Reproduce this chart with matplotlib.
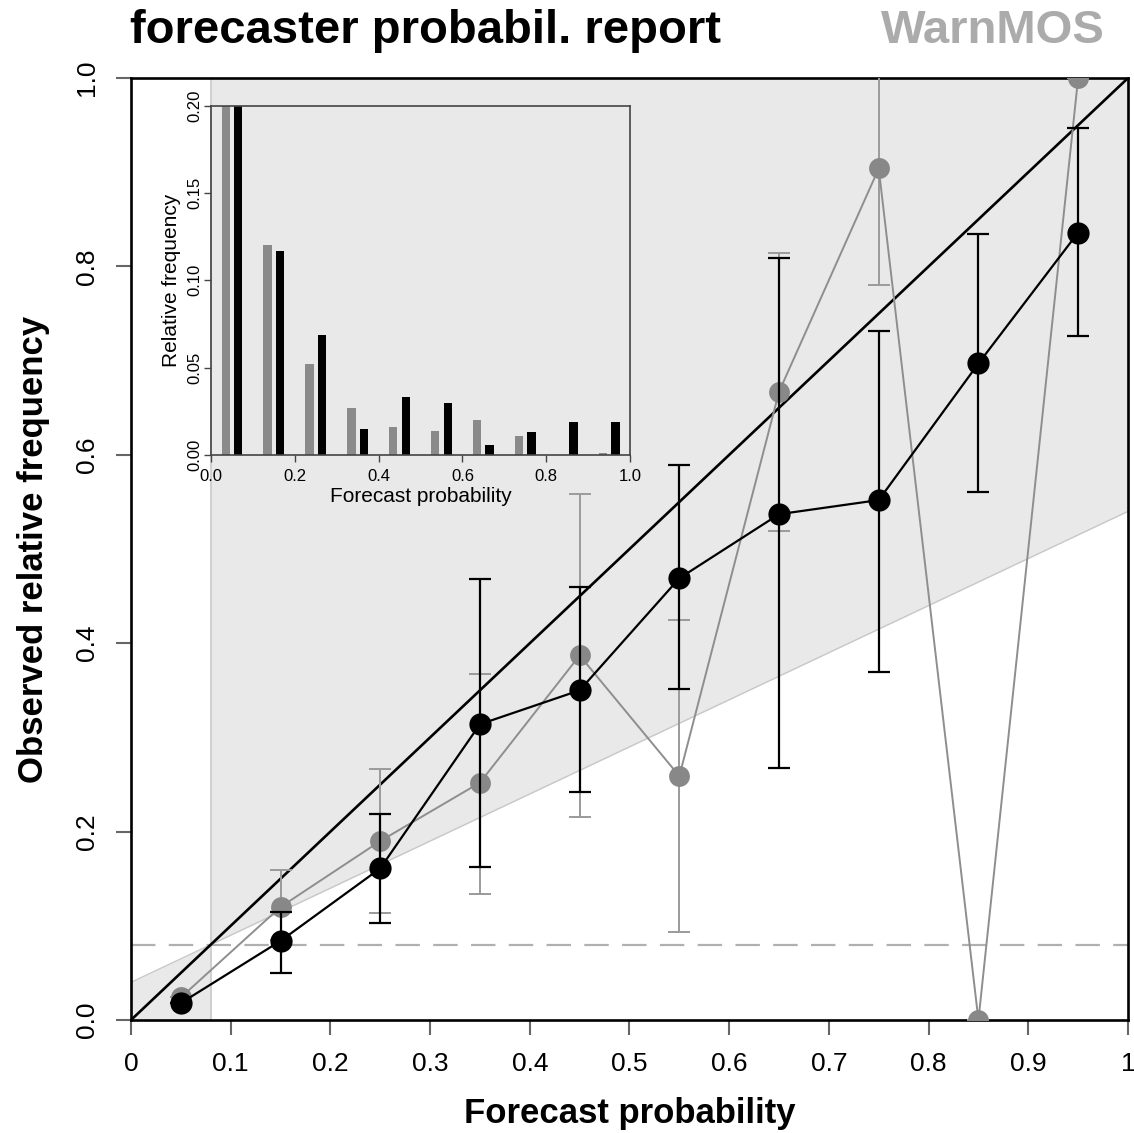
import numpy as np
import matplotlib
matplotlib.use("Agg")
import matplotlib.pyplot as plt

plt.rcParams["font.family"] = ["Liberation Sans", "DejaVu Sans"]

# bin centres of the forecast probability
bins = [0.05, 0.15, 0.25, 0.35, 0.45, 0.55, 0.65, 0.75, 0.85, 0.95]

# forecaster (black)
fc_obs = [0.018, 0.084, 0.161, 0.314, 0.350, 0.469, 0.537, 0.552, 0.697, 0.836]
fc_lo = [0.018, 0.050, 0.103, 0.162, 0.242, 0.351, 0.268, 0.370, 0.561, 0.726]
fc_hi = [0.018, 0.115, 0.219, 0.468, 0.460, 0.589, 0.809, 0.732, 0.834, 0.947]

# WarnMOS (gray)
wm_obs = [0.024, 0.120, 0.190, 0.252, 0.387, 0.259, 0.667, 0.904, 0.0, 1.0]
wm_lo = [0.024, 0.085, 0.114, 0.134, 0.216, 0.093, 0.519, 0.780, 0.0, 1.0]
wm_hi = [0.024, 0.159, 0.266, 0.367, 0.558, 0.425, 0.814, 1.100, 0.0, 1.0]

# sharpness histogram (relative frequency per bin)
wm_freq = [0.739, 0.120, 0.052, 0.027, 0.016, 0.014, 0.020, 0.011, 0.0, 0.001]
fc_freq = [0.680, 0.117, 0.069, 0.015, 0.033, 0.030, 0.0055, 0.013, 0.019, 0.019]

clim = 0.08

x_ticks = [0, 0.1, 0.2, 0.3, 0.4, 0.5, 0.6, 0.7, 0.8, 0.9, 1]
x_labels = ["0", "0.1", "0.2", "0.3", "0.4", "0.5", "0.6", "0.7", "0.8", "0.9", "1"]
y_ticks = [0, 0.2, 0.4, 0.6, 0.8, 1.0]
y_labels = ["0.0", "0.2", "0.4", "0.6", "0.8", "1.0"]

fig = plt.figure(figsize=(11.34, 11.33), dpi=100)
ax = fig.add_axes([0.1155, 0.0997, 0.8792, 0.8314])

# skill region
shade = "#e9e9e9"
ax.fill_between([0, clim], [0, 0], [clim / 2, clim], color=shade, lw=0, zorder=0)
ax.fill_between([clim, 1], [clim, (1 + clim) / 2], [1, 1], color=shade, lw=0, zorder=0)
ax.plot([0, 1], [clim / 2, (1 + clim) / 2], color="#c8c8c8", lw=1, zorder=1)
ax.axvline(clim, color="#c8c8c8", lw=1.2, zorder=1)
ax.axhline(clim, color="#b0b0b0", lw=1.6, dashes=(11, 6), zorder=1)
ax.plot([0, 1], [0, 1], color="black", lw=1.9, zorder=2)

# WarnMOS
wm_err = [np.array(wm_obs) - np.array(wm_lo), np.array(wm_hi) - np.array(wm_obs)]
ax.errorbar(bins, wm_obs, yerr=wm_err, fmt="none", ecolor="#9a9a9a",
            elinewidth=1.4, capsize=8, capthick=1.4, zorder=3)
ax.plot(bins, wm_obs, color="#8e8e8e", lw=1.4, zorder=3)
ax.plot(bins, wm_obs, "o", color="#888888", ms=15, mec="none", zorder=4)

# forecaster
fc_err = [np.array(fc_obs) - np.array(fc_lo), np.array(fc_hi) - np.array(fc_obs)]
ax.errorbar(bins, fc_obs, yerr=fc_err, fmt="none", ecolor="black",
            elinewidth=1.6, capsize=8, capthick=1.6, zorder=5)
ax.plot(bins, fc_obs, color="black", lw=1.6, zorder=5)
ax.plot(bins, fc_obs, "o", color="black", ms=16, mec="none", zorder=6)

ax.set_xlim(0, 1)
ax.set_ylim(0, 1)
ax.set_xticks(x_ticks)
ax.set_xticklabels(x_labels, fontsize=19)
ax.set_yticks(y_ticks)
ax.set_yticklabels(y_labels, fontsize=19, rotation=90, va="center")
ax.tick_params(length=11, width=1.5, color="#666666", pad=12)
for sp in ax.spines.values():
    sp.set_linewidth(1.9)
ax.set_xlabel("Forecast probability", fontsize=25, fontweight="bold", labelpad=15)
ax.set_ylabel("Observed relative frequency", fontsize=25, fontweight="bold", labelpad=18)

fig.text(0.1146, 0.962, "forecaster probabil. report", fontsize=34,
         fontweight="bold", ha="left", va="baseline")
fig.text(0.9744, 0.962, "WarnMOS", fontsize=34, fontweight="bold",
         color="#ababab", ha="right", va="baseline")

# inset: sharpness histogram
ins = fig.add_axes([0.1861, 0.5984, 0.3695, 0.3083])
ins.patch.set_alpha(0)
ins.bar(np.array(bins) - 0.015, wm_freq, width=0.02, color="#8a8a8a", lw=0)
ins.bar(np.array(bins) + 0.015, fc_freq, width=0.02, color="black", lw=0)
ins.set_xlim(0, 1)
ins.set_ylim(0, 0.2)
ins.set_xticks([0, 0.2, 0.4, 0.6, 0.8, 1.0])
ins.set_xticklabels(["0.0", "0.2", "0.4", "0.6", "0.8", "1.0"], fontsize=12)
ins.set_yticks([0, 0.05, 0.1, 0.15, 0.2])
ins.set_yticklabels(["0.00", "0.05", "0.10", "0.15", "0.20"], fontsize=12,
                    rotation=90, va="center")
ins.tick_params(length=5, width=1, color="#444444", pad=1)
ins.tick_params(axis="x", pad=5)
for sp in ins.spines.values():
    sp.set_linewidth(1.2)
    sp.set_color("#444444")
ins.set_xlabel("Forecast probability", fontsize=15, labelpad=2)
ins.set_ylabel("Relative frequency", fontsize=15, labelpad=5)

fig.savefig("out.png", dpi=100)
